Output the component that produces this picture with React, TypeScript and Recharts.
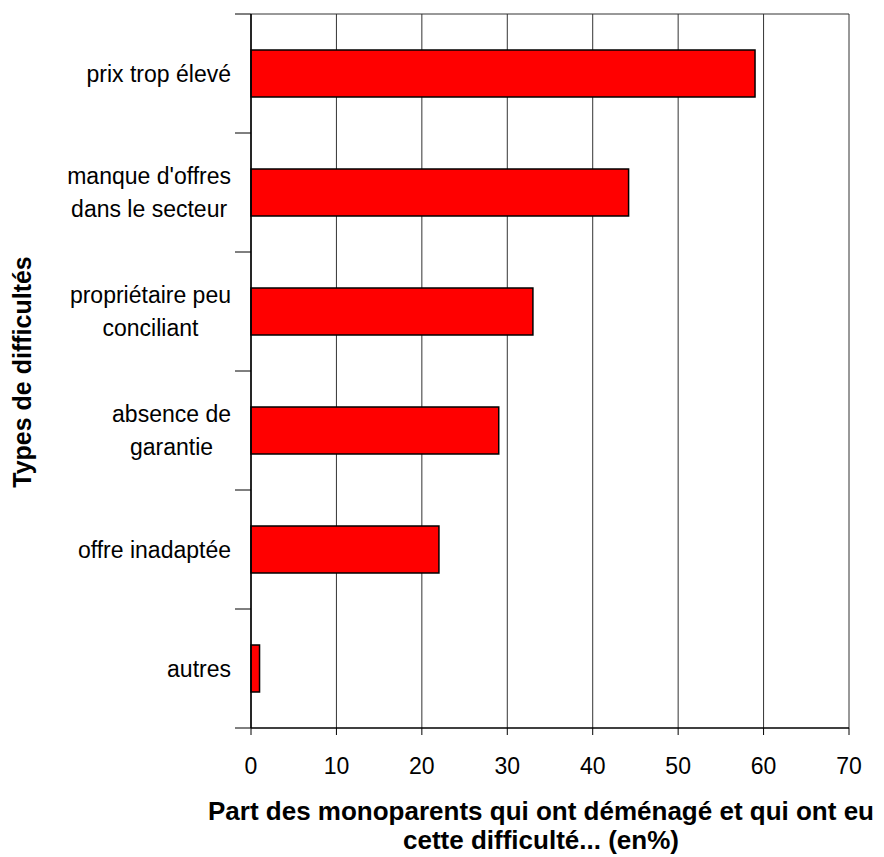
import React from "react";
import { BarChart, Bar, XAxis, YAxis, CartesianGrid } from "recharts";

const categories = [
  "prix trop élevé",
  "manque d'offres\ndans le secteur",
  "propriétaire peu\nconciliant",
  "absence de\ngarantie",
  "offre inadaptée",
  "autres",
];
const shares = [59, 44.2, 33, 29, 22, 1];
const xTicks = [0, 10, 20, 30, 40, 50, 60, 70];
const xTitleLines = [
  "Part des monoparents qui ont déménagé et qui ont eu",
  "cette difficulté... (en%)",
];
const yTitle = "Types de difficultés";

const data = categories.map((c, i) => ({ cat: c, value: shares[i] }));

const FONT = "'Liberation Sans', Arial, Helvetica, sans-serif";
const LABEL_SIZE = 23;

let canvasCtx: CanvasRenderingContext2D | null = null;
function measure(text: string): number {
  if (typeof document === "undefined") return text.length * LABEL_SIZE * 0.5;
  if (!canvasCtx) {
    const c = document.createElement("canvas");
    canvasCtx = c.getContext("2d");
  }
  if (!canvasCtx) return text.length * LABEL_SIZE * 0.5;
  canvasCtx.font = `${LABEL_SIZE}px ${FONT}`;
  return canvasCtx.measureText(text).width;
}

const CategoryTick = (props: any) => {
  const { x, y, payload, index } = props;
  const lines = String(payload.value).split("\n");
  const half = payload.offset || 0;
  const widest = Math.max(...lines.map(measure));
  const right = x - 12;
  const cx = right - widest / 2;
  const lh = 33;
  const startY = y - ((lines.length - 1) * lh) / 2;
  return (
    <g>
      {index === 0 && (
        <line x1={x - 8} x2={x + 8} y1={y - half} y2={y - half} stroke="#000" strokeWidth={1} />
      )}
      <line x1={x - 8} x2={x + 8} y1={y + half} y2={y + half} stroke="#000" strokeWidth={1} />
      <text
        x={cx}
        y={startY}
        textAnchor="middle"
        fontFamily={FONT}
        fontSize={LABEL_SIZE}
        fill="#000"
        dominantBaseline="central"
      >
        {lines.map((l, i) => (
          <tspan key={i} x={cx} y={startY + i * lh} dominantBaseline="central">
            {l}
          </tspan>
        ))}
      </text>
    </g>
  );
};

export default function App() {
  return (
    <div style={{ position: "relative", width: 876, height: 849 }}>
      <BarChart
        layout="vertical"
        width={876}
        height={849}
        data={data}
        margin={{ top: 6, right: 35, bottom: 89, left: 0 }}
        barSize={47}
      >
        <CartesianGrid
          stroke="#333"
          strokeWidth={1}
          horizontalCoordinatesGenerator={({ offset }: any) => [offset.top]}
          fill="none"
        />
        <XAxis
          type="number"
          domain={[0, 70]}
          ticks={xTicks}
          interval={0}
          height={40}
          axisLine={{ stroke: "#000", strokeWidth: 1.5 }}
          tickLine={{ stroke: "#000" }}
          tickSize={7}
          tickMargin={23}
          tick={{ fill: "#000", fontSize: 23, fontFamily: FONT }}
        />
        <YAxis
          type="category"
          dataKey="cat"
          width={243}
          interval={0}
          axisLine={{ stroke: "#000", strokeWidth: 1.5 }}
          tickLine={false}
          tick={<CategoryTick />}
        />
        <Bar
          dataKey="value"
          fill="#FF0000"
          stroke="#000"
          strokeWidth={1.5}
          isAnimationActive={false}
        />
      </BarChart>
      <svg
        width={876}
        height={849}
        style={{ position: "absolute", left: 0, top: 0, pointerEvents: "none" }}
      >
        <text
          x={533}
          y={812}
          textAnchor="middle"
          fontFamily={FONT}
          fontWeight="bold"
          fontSize={26}
          fill="#000"
        >
          {xTitleLines[0]}
        </text>
        <text
          x={533}
          y={841}
          textAnchor="middle"
          fontFamily={FONT}
          fontWeight="bold"
          fontSize={26}
          fill="#000"
        >
          {xTitleLines[1]}
        </text>
        <text
          x={0}
          y={0}
          transform="translate(23, 364) rotate(-90)"
          textAnchor="middle"
          fontFamily={FONT}
          fontWeight="bold"
          fontSize={25}
          fill="#000"
        >
          {yTitle}
        </text>
      </svg>
    </div>
  );
}
